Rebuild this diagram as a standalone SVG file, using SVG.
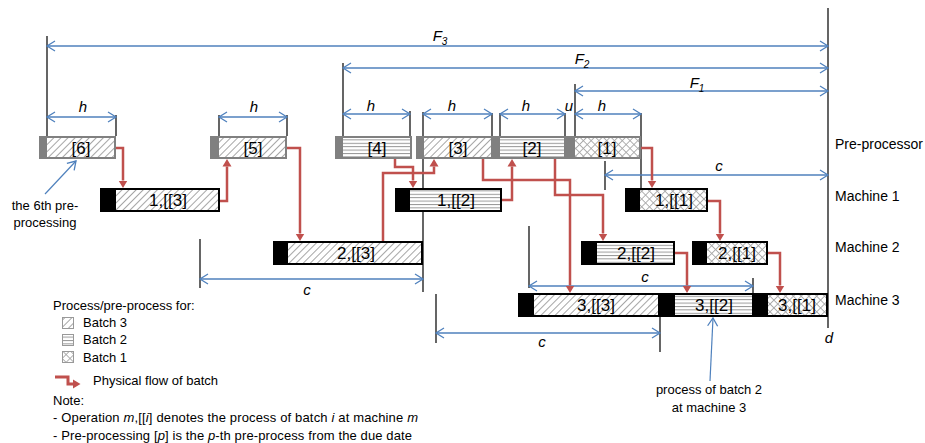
<svg xmlns="http://www.w3.org/2000/svg" width="925" height="443" viewBox="0 0 925 443">
<style>
text{font-family:"Liberation Sans",Arial,sans-serif;fill:#000}
.bx{font-size:17px;text-anchor:middle}
.lb{font-size:14px}
.sm{font-size:13px}
.it{font-style:italic}
.dim{font-size:15px;font-style:italic;text-anchor:middle}
.tick{stroke:#000;stroke-width:1.2;fill:none}
.blue{stroke:#4F81BD;stroke-width:1.3;fill:none;marker-start:url(#ab);marker-end:url(#ab)}
.bl1{stroke:#4F81BD;stroke-width:1.2;fill:none;marker-end:url(#ab)}
.red{stroke:#C0504D;stroke-width:2.5;fill:none;marker-end:url(#ar)}
.pp{stroke:#808080;stroke-width:2}
.pb{fill:#808080}
.mm{stroke:#000;stroke-width:2}
.mb{fill:#000}
</style>
<defs>
<pattern id="diag" patternUnits="userSpaceOnUse" width="5" height="5" patternTransform="rotate(45)"><rect width="5" height="5" fill="#fff"/><line x1="0.5" y1="0" x2="0.5" y2="5" stroke="#a6a6a6" stroke-width="1"/></pattern>
<pattern id="horz" patternUnits="userSpaceOnUse" width="6" height="3.4"><rect width="6" height="3.4" fill="#fff"/><line x1="0" y1="0.5" x2="6" y2="0.5" stroke="#8c8c8c" stroke-width="0.9"/></pattern>
<pattern id="cross" patternUnits="userSpaceOnUse" width="5.5" height="5.5" patternTransform="rotate(45)"><rect width="5.5" height="5.5" fill="#fff"/><line x1="0.5" y1="0" x2="0.5" y2="5.5" stroke="#a6a6a6" stroke-width="0.9"/><line x1="0" y1="0.5" x2="5.5" y2="0.5" stroke="#a6a6a6" stroke-width="0.9"/></pattern>
<marker id="ab" viewBox="-10 -6 12 12" markerWidth="12" markerHeight="12" refX="0" refY="0" orient="auto-start-reverse" markerUnits="userSpaceOnUse"><path d="M-8,-5 L0,0 L-8,5" fill="none" stroke="#4F81BD" stroke-width="1.3"/></marker>
<marker id="ar" viewBox="0 -6 9 12" markerWidth="9" markerHeight="12" refX="0" refY="0" orient="auto" markerUnits="userSpaceOnUse"><path d="M0,-4.5 L7.5,0 L0,4.5 z" fill="#C0504D"/></marker>
</defs>

<!-- reference ticks -->
<g id="ticks">
<path class="tick" d="M47,36V136 M116,115V136 M219,115V136 M287,115V136 M343,63V136 M410,111V136 M423,112V292 M492,113V136 M500,113V136 M565,113V136 M575,84V136 M641,113V188 M828,8V328 M605,161V190 M200,239V288 M529,226V288 M753,278V293 M436,294V343 M660,317V352"/>
</g>

<!-- dimensions -->
<g id="dimensions">
<path class="blue" d="M47,46H828"/>
<path class="blue" d="M343,68H828"/>
<path class="blue" d="M575,91H828"/>
<path class="blue" d="M47,117H116"/>
<path class="blue" d="M219,117H287"/>
<path class="blue" d="M343,114H410"/>
<path class="blue" d="M423,114H492"/>
<path class="blue" d="M500,114H565"/>
<path class="blue" d="M575,114H641"/>
<path class="blue" d="M605,175H828"/>
<path class="blue" d="M200,279H423"/>
<path class="blue" d="M529,286H753"/>
<path class="blue" d="M436,333H660"/>
<text class="dim" x="440" y="41">F<tspan font-size="10" dy="4">3</tspan></text>
<text class="dim" x="582" y="64">F<tspan font-size="10" dy="4">2</tspan></text>
<text class="dim" x="697" y="88">F<tspan font-size="10" dy="4">1</tspan></text>
<text class="dim" x="83" y="112">h</text>
<text class="dim" x="254" y="112">h</text>
<text class="dim" x="371" y="111">h</text>
<text class="dim" x="452" y="111">h</text>
<text class="dim" x="526" y="111">h</text>
<text class="dim" x="602" y="111">h</text>
<text class="dim" x="569" y="111" font-size="12">u</text>
<text class="dim" x="719" y="171">c</text>
<text class="dim" x="307" y="295">c</text>
<text class="dim" x="645" y="282">c</text>
<text class="dim" x="542" y="347">c</text>
<text class="dim" x="829" y="343">d</text>
</g>

<!-- pre-processor nodes -->
<g id="pp6"><rect x="40" y="137" width="75" height="21" fill="url(#diag)" class="pp"/><rect x="39" y="136" width="8" height="23" class="pb"/><text class="bx" x="81" y="154">[6]</text></g>
<g id="pp5"><rect x="211" y="137" width="75" height="21" fill="url(#diag)" class="pp"/><rect x="210" y="136" width="9" height="23" class="pb"/><text class="bx" x="253" y="154">[5]</text></g>
<g id="pp4"><rect x="336" y="137" width="75" height="21" fill="url(#horz)" class="pp"/><rect x="335" y="136" width="8" height="23" class="pb"/><text class="bx" x="377" y="154">[4]</text></g>
<g id="pp3"><rect x="417" y="137" width="75" height="21" fill="url(#diag)" class="pp"/><rect x="416" y="136" width="8" height="23" class="pb"/><text class="bx" x="458" y="154">[3]</text></g>
<g id="pp2"><rect x="493" y="137" width="72" height="21" fill="url(#horz)" class="pp"/><rect x="492" y="136" width="8" height="23" class="pb"/><text class="bx" x="532" y="154">[2]</text></g>
<g id="pp1"><rect x="566" y="137" width="74" height="21" fill="url(#cross)" class="pp"/><rect x="565" y="136" width="10" height="23" class="pb"/><text class="bx" x="607" y="154">[1]</text></g>

<!-- machine 1 -->
<g id="m1b3"><rect x="101" y="189" width="118" height="22" fill="url(#diag)" class="mm"/><rect x="100" y="188" width="16" height="24" class="mb"/><text class="bx" x="168" y="206">1,[[3]</text></g>
<g id="m1b2"><rect x="396" y="189" width="105" height="22" fill="url(#horz)" class="mm"/><rect x="395" y="188" width="15" height="24" class="mb"/><text class="bx" x="456" y="206">1,[[2]</text></g>
<g id="m1b1"><rect x="626" y="189" width="81" height="22" fill="url(#cross)" class="mm"/><rect x="625" y="188" width="15" height="24" class="mb"/><text class="bx" x="674" y="206">1,[[1]</text></g>

<!-- machine 2 -->
<g id="m2b3"><rect x="274" y="242" width="148" height="22" fill="url(#diag)" class="mm"/><rect x="273" y="241" width="15" height="24" class="mb"/><text class="bx" x="356" y="259">2,[[3]</text></g>
<g id="m2b2"><rect x="582" y="242" width="92" height="22" fill="url(#horz)" class="mm"/><rect x="581" y="241" width="16" height="24" class="mb"/><text class="bx" x="636" y="259">2,[[2]</text></g>
<g id="m2b1"><rect x="693" y="242" width="74" height="22" fill="url(#cross)" class="mm"/><rect x="692" y="241" width="15" height="24" class="mb"/><text class="bx" x="737" y="259">2,[[1]</text></g>

<!-- machine 3 -->
<g id="m3b3"><rect x="519" y="294" width="140" height="22" fill="url(#diag)" class="mm"/><rect x="518" y="293" width="16" height="24" class="mb"/><text class="bx" x="596" y="311">3,[[3]</text></g>
<g id="m3b2"><rect x="660" y="294" width="93" height="22" fill="url(#horz)" class="mm"/><rect x="659" y="293" width="16" height="24" class="mb"/><text class="bx" x="714" y="311">3,[[2]</text></g>
<g id="m3b1"><rect x="754" y="294" width="73" height="22" fill="url(#cross)" class="mm"/><rect x="753" y="293" width="15" height="24" class="mb"/><text class="bx" x="797" y="311">3,[[1]</text></g>

<!-- flow connectors -->
<g id="connectors">
<path class="red" d="M116,148H123V180.5"/>
<path class="red" d="M220,201H227V166.5"/>
<path class="red" d="M287,148H300V233.5"/>
<path class="red" d="M383,241V173H434V166.5"/>
<path class="red" d="M395,159V167H413V180.5"/>
<path class="red" d="M502,200H512V166.5"/>
<path class="red" d="M483,159V180H570V285.5"/>
<path class="red" d="M555,159V195H603V233.5"/>
<path class="red" d="M641,148H652V180.5"/>
<path class="red" d="M708,201H720V233.5"/>
<path class="red" d="M675,253H687V285.5"/>
<path class="red" d="M768,253H780V285.5"/>
</g>

<!-- row labels -->
<g id="rows">
<text class="lb" x="835" y="149">Pre-processor</text>
<text class="lb" x="835" y="201">Machine 1</text>
<text class="lb" x="835" y="252">Machine 2</text>
<text class="lb" x="835" y="305">Machine 3</text>
</g>

<!-- annotations -->
<g id="ann6">
<path class="bl1" d="M45,194L76,161"/>
<text class="sm" x="45" y="210" text-anchor="middle">the 6th pre-</text>
<text class="sm" x="45" y="227" text-anchor="middle">processing</text>
</g>
<g id="annb2">
<path class="bl1" d="M710,381L713,318"/>
<text class="sm" x="709" y="394" text-anchor="middle">process of batch 2</text>
<text class="sm" x="709" y="412" text-anchor="middle">at machine 3</text>
</g>

<!-- legend -->
<g id="legend">
<text class="sm" x="53" y="310">Process/pre-process for:</text>
<rect x="62.5" y="317.5" width="11" height="11" fill="url(#diag)" stroke="#999" stroke-width="1"/>
<rect x="62.5" y="334.5" width="11" height="11" fill="url(#horz)" stroke="#999" stroke-width="1"/>
<rect x="62.5" y="351.5" width="11" height="11" fill="url(#cross)" stroke="#999" stroke-width="1"/>
<text class="sm" x="83" y="327">Batch 3</text>
<text class="sm" x="83" y="344">Batch 2</text>
<text class="sm" x="83" y="362">Batch 1</text>
<path d="M55,377H68V384H73" stroke="#C0504D" stroke-width="3" fill="none" marker-end="url(#ar)"/>
<text class="sm" x="93" y="385">Physical flow of batch</text>
<text class="sm" x="53" y="405">Note:</text>
<text class="sm" x="53" y="422" textLength="365" lengthAdjust="spacing">- Operation <tspan class="it">m</tspan>,[[<tspan class="it">i</tspan>] denotes the process of batch <tspan class="it">i</tspan> at machine <tspan class="it">m</tspan></text>
<text class="sm" x="53" y="440" textLength="359" lengthAdjust="spacing">- Pre-processing [<tspan class="it">p</tspan>] is the <tspan class="it">p</tspan>-th pre-process from the due date</text>
</g>
</svg>
